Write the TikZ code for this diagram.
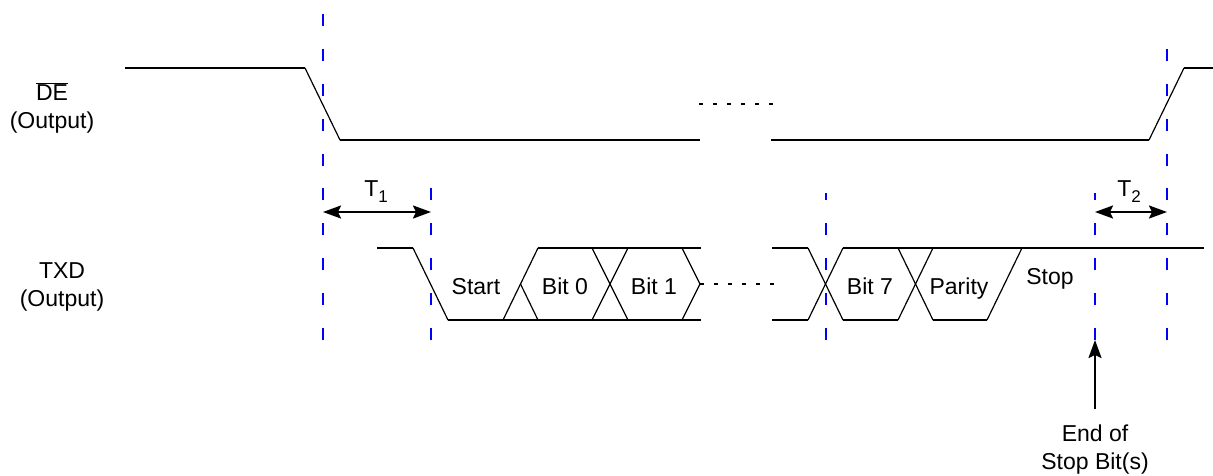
\documentclass[tikz,border=0pt]{standalone}
\usepackage{fontspec}
\setmainfont{Liberation Sans}
\usetikzlibrary{arrows.meta}
\begin{document}
\begin{tikzpicture}[x=1pt,y=-1pt,
  sig/.style={line width=2.2pt},
  edgeln/.style={line width=1.2pt},
  guide/.style={draw={rgb,255:red,0;green,0;blue,255}, line width=2.5pt, dash pattern=on 12pt off 22.9pt},
  dots/.style={line width=2.2pt, dash pattern=on 4pt off 10pt},
  lbl/.style={font=\fontsize{23}{28}\selectfont, inner sep=0pt, anchor=base, align=center},
  sublbl/.style={font=\fontsize{23}{28}\selectfont, inner sep=0pt, anchor=base},
  dimarrow/.style={line width=2pt, {Stealth[length=18pt,width=13pt,inset=3pt]}-{Stealth[length=18pt,width=13pt,inset=3pt]}},
  ptrarrow/.style={line width=2pt, -{Stealth[length=18pt,width=13pt,inset=3pt]}}]
\useasboundingbox (0,0) rectangle (1213,475);

% ---- signal labels
\node[lbl] (delbl) at (52,100) {$\overline{\mbox{DE}}$};
\node[lbl] (deout) at (52,128) {(Output)};
\node[lbl] (txdlbl) at (62,278) {TXD};
\node[lbl] (txdout) at (62,306) {(Output)};

% ---- blue guide lines (drawn bottom-up so each ends on a dash)
\draw[guide] (323,340) -- (323,14);
\draw[guide] (431,340) -- (431,175);
\draw[guide] (826,340) -- (826,193);
\draw[guide] (1095,340) -- (1095,193);
\draw[guide] (1167,340) -- (1167,32);

% ---- DE waveform
\draw[sig] (125,68) -- (305,68);
\draw[edgeln] (305,68) -- (340,140);
\draw[sig] (340,140) -- (700,140);
\draw[dots] (699,104) -- (775,104);
\draw[sig] (771,140) -- (1149,140);
\draw[edgeln] (1149,140) -- (1184,68);
\draw[sig] (1184,68) -- (1213,68);

% ---- TXD waveform
\draw[sig] (377,248) -- (413,248);
\draw[edgeln] (413,248) -- (448,320);
\draw[sig] (448,320) -- (701,320);
\draw[sig] (538,248) -- (701,248);
\draw[edgeln] (503,320) -- (538,248);
\draw[edgeln] (520.5,284) -- (538,320);
\draw[edgeln] (592,248) -- (628,320);
\draw[edgeln] (592,320) -- (628,248);
\draw[edgeln] (682,248) -- (700,284) -- (682,320);
\draw[dots] (700,284) -- (776,284);
\draw[sig] (772,248) -- (808,248);
\draw[sig] (772,320) -- (808,320);
\draw[edgeln] (808,248) -- (843,320);
\draw[edgeln] (808,320) -- (843,248);
\draw[sig] (843,248) -- (1204,248);
\draw[sig] (843,320) -- (898,320);
\draw[edgeln] (898,248) -- (933,320);
\draw[edgeln] (898,320) -- (933,248);
\draw[sig] (933,320) -- (987,320);
\draw[edgeln] (987,320) -- (1022,248);

% ---- bit labels
\node[lbl] (start) at (476,294) {Start};
\node[lbl] (bit0) at (565,294) {Bit 0};
\node[lbl] (bit1) at (654,294) {Bit 1};
\node[lbl] (bit7) at (870,294) {Bit 7};
\node[lbl] (parity) at (959,294) {Parity};
\node[lbl] (stop) at (1050,284) {Stop};

% ---- T1 / T2
\coordinate (t1a) at (323,212);
\coordinate (t1b) at (431,212);
\coordinate (t2a) at (1095,212);
\coordinate (t2b) at (1167,212);
\draw[dimarrow] (t1a) -- (t1b);
\draw[dimarrow] (t2a) -- (t2b);
\node[sublbl] (t1) at (376,196) {T\raisebox{-6pt}{\fontsize{17}{17}\selectfont 1}};
\node[sublbl] (t2) at (1129,196) {T\raisebox{-6pt}{\fontsize{17}{17}\selectfont 2}};

% ---- end of stop bit pointer
\node[lbl] (eos1) at (1095,441) {End of};
\node[lbl] (eos2) at (1095,469) {Stop Bit(s)};
\coordinate (eostip) at (1095,340);
\coordinate (eostail) at (1095,409);
\draw[ptrarrow] (eostail) -- (eostip);
\end{tikzpicture}
\end{document}
